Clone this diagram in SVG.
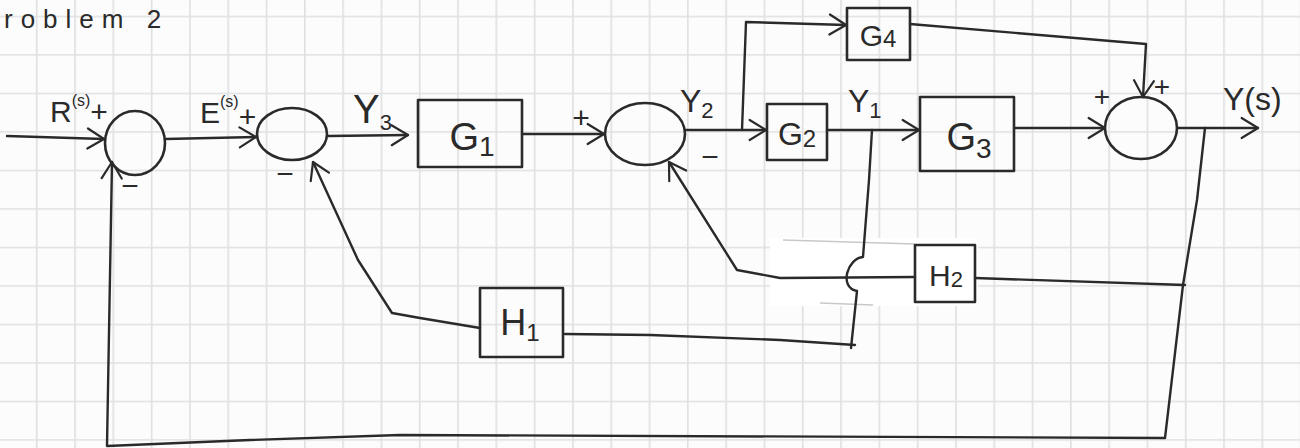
<svg xmlns="http://www.w3.org/2000/svg" width="1300" height="448" viewBox="0 0 1300 448">
<defs>
<pattern id="grid" x="35.9" y="15.7" width="38.3" height="38.5" patternUnits="userSpaceOnUse">
<path d="M0.8,0 V38.5 M0,0.8 H38.3" fill="none" stroke="#e0e0e0" stroke-width="1.6"/>
</pattern>
<marker id="arr" viewBox="0 0 22 26" refX="20" refY="13" markerWidth="20" markerHeight="24" markerUnits="userSpaceOnUse" orient="auto">
<path d="M2,2 L20,13 L2,24" fill="none" stroke="#2a2a2a" stroke-width="2.4" stroke-linecap="round" stroke-linejoin="round"/>
</marker>
</defs>
<style>
.blk{fill:none;stroke:#2a2a2a;stroke-width:2.6;stroke-linejoin:round}
.ln{fill:none;stroke:#2a2a2a;stroke-width:2.4;stroke-linecap:round;stroke-linejoin:round}
.lbl{font-family:"Liberation Sans",Arial,sans-serif;fill:#2a2a2a}
.edge{fill:none;stroke:#c8c8c8;stroke-width:1.4}
</style>
<rect x="0" y="0" width="1300" height="448" fill="#fcfcfc"/>
<rect x="0" y="0" width="1300" height="448" fill="url(#grid)"/>
<!-- correction tape patch -->
<rect x="770" y="238" width="208" height="68" fill="#ffffff"/>
<path class="edge" d="M783,240 L915,244 M820,303 L873,305"/>

<text class="lbl" x="4" y="28" font-size="26" letter-spacing="8">roblem 2</text>

<g id="connectors">
<path class="ln" d="M7,136 L104,139" marker-end="url(#arr)"/>
<path class="ln" d="M165,139 L256,137" marker-end="url(#arr)"/>
<path class="ln" d="M328,136 L408,135" marker-end="url(#arr)"/>
<path class="ln" d="M522,134 L604,134" marker-end="url(#arr)"/>
<path class="ln" d="M685,130 L766,130" marker-end="url(#arr)"/>
<path class="ln" d="M742,130 L746,22 L846,25" marker-end="url(#arr)"/>
<path class="ln" d="M910,24 L1146,44 L1143,97" marker-end="url(#arr)"/>
<path class="ln" d="M827,130 L919,130" marker-end="url(#arr)"/>
<path class="ln" d="M1014,128 L1105,128" marker-end="url(#arr)"/>
<path class="ln" d="M1177,128 L1258,128" marker-end="url(#arr)"/>
<path class="ln" d="M1205,128 L1197,200 L1183,285 L1165,438 L400,435 L250,440 L107,446 L112,162" marker-end="url(#arr)"/>
<path class="ln" d="M1185,285 L975,278"/>
<path class="ln" d="M915,277 L780,278 L737,270 L669,162" marker-end="url(#arr)"/>
<path class="ln" d="M872,130 L869,180 L863,257 C848,258 838,287 857,291 L851,348"/>
<path class="ln" d="M855,345 L780,340 L650,335 L565,334"/>
<path class="ln" d="M480,328 L420,318 L392,313 L358,260 L313,162" marker-end="url(#arr)"/>
</g>

<g id="sum1"><ellipse class="blk" cx="135" cy="143" rx="30" ry="32"/></g>
<g id="sum2"><ellipse class="blk" cx="292" cy="134" rx="35" ry="26"/></g>
<g id="sum3"><ellipse class="blk" cx="645" cy="134" rx="40" ry="31"/></g>
<g id="sum4"><ellipse class="blk" cx="1141" cy="128" rx="36" ry="31"/></g>

<g id="G1"><rect class="blk" x="418" y="100" width="104" height="67"/>
<text class="lbl" x="472" y="150" font-size="38" text-anchor="middle">G<tspan font-size="28" dy="6">1</tspan></text></g>
<g id="G2"><rect class="blk" x="767" y="104" width="60" height="56"/>
<text class="lbl" x="797" y="145" font-size="32" text-anchor="middle">G<tspan font-size="24" dy="2">2</tspan></text></g>
<g id="G3"><rect class="blk" x="920" y="97" width="94" height="74"/>
<text class="lbl" x="969" y="150" font-size="38" text-anchor="middle">G<tspan font-size="28" dy="8">3</tspan></text></g>
<g id="G4"><rect class="blk" x="847" y="8" width="63" height="52"/>
<text class="lbl" x="878" y="46" font-size="30" text-anchor="middle">G<tspan font-size="24" dy="1">4</tspan></text></g>
<g id="H1"><rect class="blk" x="480" y="288" width="83" height="69"/>
<text class="lbl" x="520" y="335" font-size="36" text-anchor="middle">H<tspan font-size="24" dy="6">1</tspan></text></g>
<g id="H2"><rect class="blk" x="915" y="245" width="60" height="57"/>
<text class="lbl" x="946" y="286" font-size="30" text-anchor="middle">H<tspan font-size="22" dy="1">2</tspan></text></g>

<g id="labels">
<text class="lbl" x="50" y="122" font-size="30">R<tspan font-size="16" dy="-16">(s)</tspan><tspan dy="16">+</tspan></text>
<text class="lbl" x="200" y="123" font-size="30">E<tspan font-size="16" dy="-16">(s)</tspan><tspan dy="20">+</tspan></text>
<text class="lbl" x="130" y="196" font-size="30" text-anchor="middle">−</text>
<text class="lbl" x="285" y="184" font-size="30" text-anchor="middle">−</text>
<text class="lbl" x="353" y="123" font-size="40">Y<tspan font-size="22" dy="7">3</tspan></text>
<text class="lbl" x="581" y="128" font-size="30" text-anchor="middle">+</text>
<text class="lbl" x="680" y="112" font-size="32">Y<tspan font-size="22" dy="6">2</tspan></text>
<text class="lbl" x="710" y="167" font-size="30" text-anchor="middle">−</text>
<text class="lbl" x="848" y="112" font-size="32">Y<tspan font-size="22" dy="6">1</tspan></text>
<text class="lbl" x="1102" y="106" font-size="28" text-anchor="middle">+</text>
<text class="lbl" x="1162" y="96" font-size="28" text-anchor="middle">+</text>
<text class="lbl" x="1223" y="110" font-size="32">Y(s)</text>
</g>
</svg>
